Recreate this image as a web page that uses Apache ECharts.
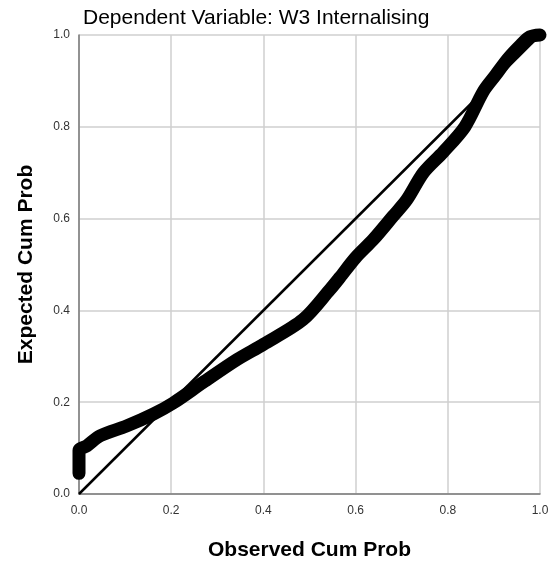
<!DOCTYPE html>
<html>
<head>
<meta charset="utf-8">
<script src="https://cdn.jsdelivr.net/npm/echarts@6/dist/echarts.min.js"></script>
<style>html,body{margin:0;padding:0;background:#fff}#c{width:553px;height:566px}</style>
</head>
<body>
<div id="c"></div>
<script>
var observed = [0, 0, 0, 0.017, 0.046, 0.103, 0.161, 0.204, 0.269, 0.343, 0.4, 0.486, 0.544, 0.566, 0.6, 0.638, 0.681, 0.711, 0.747, 0.79, 0.837, 0.877, 0.904, 0.931, 0.958, 0.978, 1.0];
var expected = [0.045, 0.07, 0.095, 0.105, 0.127, 0.148, 0.174, 0.198, 0.243, 0.293, 0.326, 0.38, 0.445, 0.472, 0.515, 0.554, 0.605, 0.641, 0.70, 0.745, 0.80, 0.877, 0.913, 0.949, 0.978, 0.996, 1.0];
var refLine = [[0, 0], [1, 1]];
var titleText = 'Dependent Variable: W3 Internalising';
var xName = 'Observed Cum Prob';
var yName = 'Expected Cum Prob';

var pts = observed.map(function (x, i) { return [x, expected[i]]; });
var font = 'Liberation Sans, Arial, sans-serif';
var chart = echarts.init(document.getElementById('c'), null, {renderer: 'canvas'});
chart.setOption({
  animation: false,
  title: {
    text: titleText, left: 78, top: 3,
    textStyle: {fontFamily: font, fontSize: 21, fontWeight: 'normal', color: '#000'}
  },
  grid: {left: 79, right: 13, top: 35, bottom: 71, containLabel: false},
  xAxis: {
    type: 'value', min: 0, max: 1, interval: 0.2,
    name: xName, nameLocation: 'middle', nameGap: 46,
    nameTextStyle: {fontFamily: font, fontSize: 21, fontWeight: 'bold', color: '#000'},
    axisLine: {show: true, lineStyle: {color: '#7a7a7a', width: 1.5}},
    axisTick: {show: false},
    axisLabel: {fontFamily: font, fontSize: 12, color: '#333', margin: 11, formatter: function (v) { return v.toFixed(1); }},
    splitLine: {show: true, lineStyle: {color: '#cfcfcf', width: 1.5}}
  },
  yAxis: {
    type: 'value', min: 0, max: 1, interval: 0.2,
    name: yName, nameLocation: 'middle', nameGap: 42,
    nameTextStyle: {fontFamily: font, fontSize: 21, fontWeight: 'bold', color: '#000'},
    axisLine: {show: true, lineStyle: {color: '#7a7a7a', width: 1.5}},
    axisTick: {show: false},
    axisLabel: {fontFamily: font, fontSize: 12, color: '#333', margin: 9, formatter: function (v) { return v.toFixed(1); }},
    splitLine: {show: true, lineStyle: {color: '#cfcfcf', width: 1.5}}
  },
  series: [
    {
      type: 'line', data: refLine, symbol: 'none', clip: false,
      lineStyle: {color: '#000', width: 2.5}, z: 3
    },
    {
      type: 'line', data: pts, symbol: 'none', clip: false, smooth: 0.3,
      lineStyle: {color: '#000', width: 13, cap: 'round', join: 'round'}, z: 4
    }
  ]
});
</script>
</body>
</html>
